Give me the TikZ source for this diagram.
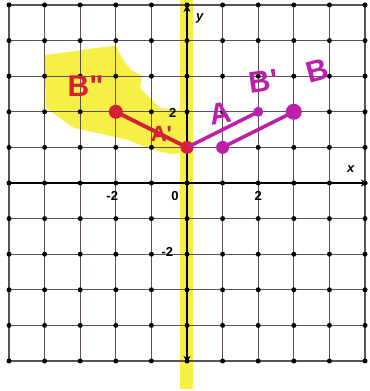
\documentclass[tikz,border=0pt]{standalone}
\usepackage{fontspec}
\setsansfont{Liberation Sans}
\usetikzlibrary{arrows.meta}
\definecolor{gridc}{RGB}{95,80,85}
\definecolor{hl}{RGB}{246,240,70}
\definecolor{redpen}{RGB}{214,32,52}
\definecolor{magpen}{RGB}{188,32,170}
\tikzset{
  gridline/.style={gridc, line width=1.2pt},
  axisline/.style={black, line width=2.6pt, -{Stealth[length=7pt,width=7pt]}},
  gdot/.style={circle, fill=black, inner sep=0pt, minimum size=5pt},
  num/.style={font=\sffamily\bfseries\fontsize{13}{13}\selectfont, inner sep=0pt},
  redpt/.style={circle, fill=redpen, inner sep=0pt, minimum size=14pt},
  magpt/.style={circle, fill=magpen, inner sep=0pt, minimum size=13pt},
  redseg/.style={redpen, line width=4pt, line cap=round},
  magseg/.style={magpen, line width=3.6pt, line cap=round},
  hand/.style={font=\sffamily\bfseries\fontsize{30}{30}\selectfont, inner sep=0pt},
}
\begin{document}
\begin{tikzpicture}[x=35.6pt, y=35.6pt]
\useasboundingbox (-5.253,5.140) rectangle (5.112,-5.843);
\fill[white] (-5.253,5.140) rectangle (5.112,-5.843);
% highlighter blob
\begin{scope}[shift={(-5.253,5.140)}, x=1pt, y=-1pt]
\fill[hl] (44,55) -- (70,52) -- (95,48) -- (116,46) -- (122,58) -- (131,70) -- (142,76)
  -- (140,88) -- (148,96) -- (160,108) -- (180,110) -- (190,112) -- (192,152) -- (170,154)
  -- (148,148) -- (128,140) -- (102,134) -- (74,128) -- (60,118) -- (46,108) -- cycle;
\fill[hl] (180,0) rectangle (193,389);
\end{scope}
% grid
\foreach \i in {-5,...,5} {
  \draw[gridline] (\i,-5) -- (\i,5);
  \draw[gridline] (-5,\i) -- (5,\i);
}
\foreach \i in {-5,...,5} \foreach \j in {-5,...,5} {
  \node[gdot] at (\i,\j) {};
}
% axes
\coordinate (xl) at (-5.05,0);
\coordinate (xr) at (5.08,0);
\coordinate (yb) at (0,-5.05);
\coordinate (yt) at (0,5.0);
\draw[axisline] (xl) -- (xr);
\draw[black, line width=2.6pt, {Stealth[length=7pt,width=7pt]}-{Stealth[length=7pt,width=7pt]}] (yb) -- (yt);
% axis labels
\node[num] (xm2) at (-2.1,-0.36) {-2};
\node[num] (x0) at (-0.34,-0.36) {0};
\node[num] (x2) at (2.0,-0.36) {2};
\node[num] (y2) at (-0.4,1.98) {2};
\node[num] (ym2) at (-0.55,-1.95) {-2};
\node[num, font=\sffamily\bfseries\itshape\fontsize{13}{13}\selectfont] (xlab) at (4.6,0.38) {x};
\node[num, font=\sffamily\bfseries\itshape\fontsize{13}{13}\selectfont] (ylab) at (0.36,4.62) {y};
% points
\node[redpt] (Bpp) at (-2,2) {};
\node[magpt] (Ap) at (0,1) {};
\node[redpt, minimum size=12pt] (App) at (0,1) {};
\node[magpt] (A) at (1,1) {};
\node[magpt, minimum size=10pt] (Bp) at (2,2) {};
\node[magpt, minimum size=16pt] (B) at (3,2) {};
\draw[magseg] (Ap.center) -- (Bp.center);
\draw[magseg] (A.center) -- (B.center);
\draw[redseg] (Bpp.center) -- (App.center);
% handwritten labels
\node[hand, text=redpen] (lBpp) at (-2.85,2.72) {B\textquotedbl};
\node[hand, text=redpen, font=\sffamily\bfseries\fontsize{22}{22}\selectfont] (lApp) at (-0.72,1.38) {A\textquotesingle};
\node[hand, text=magpen, rotate=10] (lA) at (0.95,1.95) {A};
\node[hand, text=magpen, rotate=8] (lBp) at (2.15,2.85) {B\textquotesingle};
\node[hand, text=magpen, rotate=15] (lB) at (3.65,3.15) {B};
\end{tikzpicture}
\end{document}
